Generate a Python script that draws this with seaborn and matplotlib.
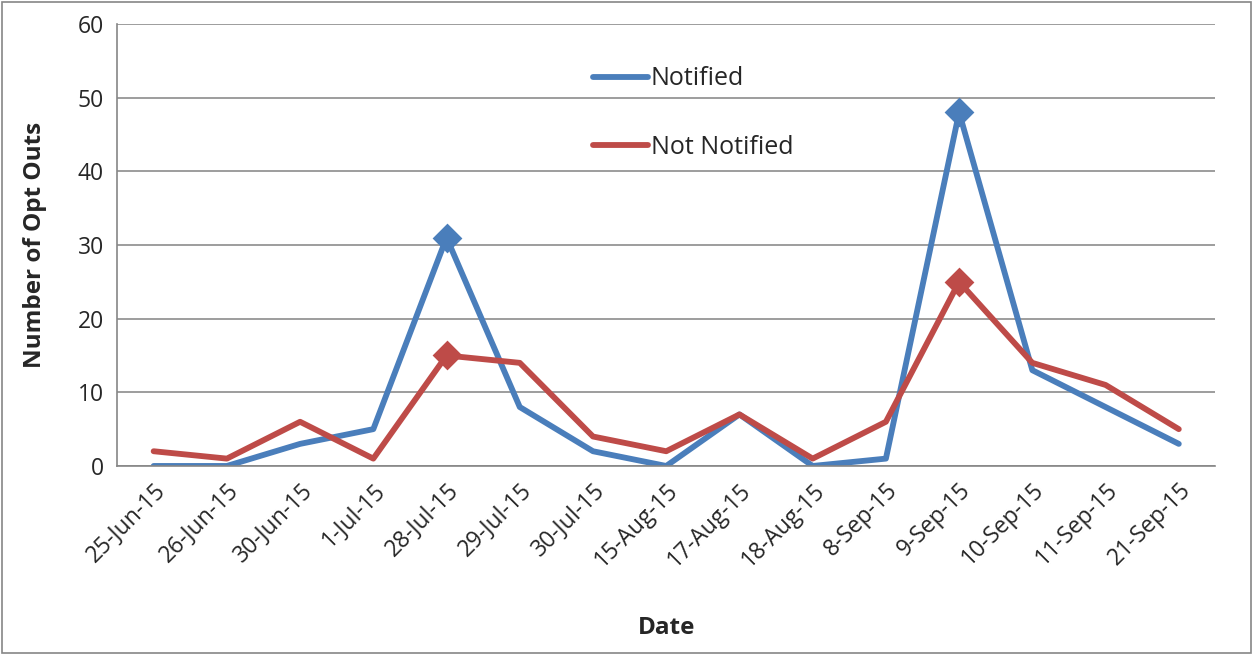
import pandas as pd
import matplotlib
matplotlib.use("Agg")
import matplotlib.pyplot as plt
import seaborn as sns

# chart data
dates = ['25-Jun-15', '26-Jun-15', '30-Jun-15', '1-Jul-15', '28-Jul-15', '29-Jul-15',
         '30-Jul-15', '15-Aug-15', '17-Aug-15', '18-Aug-15', '8-Sep-15', '9-Sep-15',
         '10-Sep-15', '11-Sep-15', '21-Sep-15']
notified = [0, 0, 3, 5, 31, 8, 2, 0, 7, 0, 1, 48, 13, 8, 3]
not_notified = [2, 1, 6, 1, 15, 14, 4, 2, 7, 1, 6, 25, 14, 11, 5]

df = pd.DataFrame({'Date': dates, 'Notified': notified, 'Not Notified': not_notified})
long_df = df.melt(id_vars='Date', var_name='Series', value_name='Opt Outs')
long_df['pos'] = long_df.groupby('Series').cumcount()

sns.set_style("white")
plt.rcParams['font.family'] = ['Open Sans', 'DejaVu Sans']

fig = plt.figure(figsize=(12.53, 6.54), dpi=100)
ax = fig.add_axes([0.0934, 0.2875, 0.8766, 0.6758])

palette = {'Notified': '#4A7EBB', 'Not Notified': '#BE4B48'}
sns.lineplot(data=long_df, x='pos', y='Opt Outs', hue='Series', palette=palette,
             linewidth=4.2, ax=ax, legend=False)

# diamond markers only at the two peaks
peaks = [4, 11]
for name in ['Notified', 'Not Notified']:
    sub = long_df[(long_df['Series'] == name) & (long_df['pos'].isin(peaks))]
    sns.scatterplot(data=sub, x='pos', y='Opt Outs', color=palette[name], marker='D',
                    s=230, edgecolor=palette[name], linewidth=0, ax=ax, zorder=5)

ax.set_xlim(-0.5, len(dates) - 0.5)
ax.set_ylim(0, 60)
ax.set_yticks(range(0, 61, 10))
ax.set_xticks([i - 0.5 for i in range(len(dates) + 1)], minor=False)
ax.set_xticklabels([])
ax.set_xticks(range(len(dates)), minor=True)
ax.set_xticklabels(dates, minor=True, rotation=45, ha='right', rotation_mode='anchor', fontsize=16.5)
ax.tick_params(axis='x', which='minor', length=0, pad=9)
ax.tick_params(axis='x', which='major', length=6, color='#868686', direction='out')
ax.tick_params(axis='y', length=6, color='#868686', direction='out', labelsize=16.5)
ax.grid(axis='y', color='#8c8c8c', linewidth=1.2)
for s in ['top', 'right']:
    ax.spines[s].set_visible(False)
for s in ['left', 'bottom']:
    ax.spines[s].set_color('#868686')
    ax.spines[s].set_linewidth(1.2)
ax.set_ylabel('Number of Opt Outs', fontsize=17.5, fontweight='bold', labelpad=22)
ax.set_xlabel('Date', fontsize=17.5, fontweight='bold', labelpad=32)

handles = [plt.Line2D([], [], color=palette[n], linewidth=4.2) for n in ['Notified', 'Not Notified']]
ax.legend(handles, ['Notified', 'Not Notified'], loc='upper left', bbox_to_anchor=(0.413, 0.955),
          frameon=False, fontsize=18, labelspacing=1.75, handlelength=2.2, handletextpad=0.1)

fig.patches.append(plt.Rectangle((0.0015, 0.0015), 0.997, 0.996, transform=fig.transFigure,
                                 fill=False, edgecolor='#868686', linewidth=1.2))

fig.savefig('out.png', dpi=100)
